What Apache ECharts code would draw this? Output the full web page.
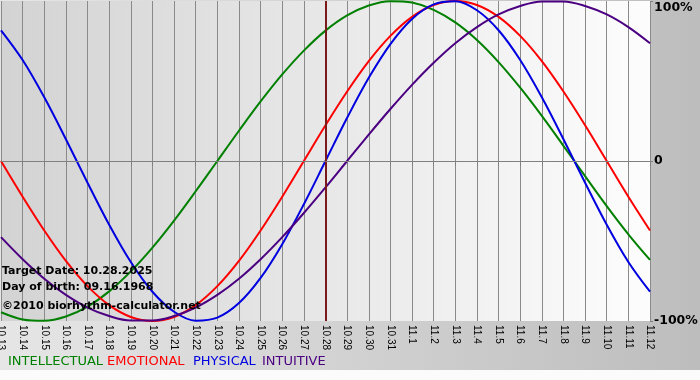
<!DOCTYPE html>
<html>
<head>
<meta charset="utf-8">
<script src="https://cdn.jsdelivr.net/npm/echarts@6/dist/echarts.min.js"></script>
<style>html,body{margin:0;padding:0;background:#fff}#c{width:700px;height:380px}</style>
</head>
<body>
<div id="c"></div>
<script>
const days = ['10.13','10.14','10.15','10.16','10.17','10.18','10.19','10.20','10.21','10.22','10.23','10.24','10.25','10.26','10.27','10.28','10.29','10.30','10.31','11.1','11.2','11.3','11.4','11.5','11.6','11.7','11.8','11.9','11.10','11.11','11.12'];
const intellectual = [-0.945,-0.990,-0.999,-0.972,-0.910,-0.815,-0.690,-0.541,-0.372,-0.189,0,0.189,0.372,0.541,0.690,0.815,0.910,0.972,0.999,0.990,0.945,0.866,0.756,0.618,0.458,0.282,0.095,-0.095,-0.282,-0.458,-0.618];
const emotional = [0,-0.223,-0.434,-0.624,-0.782,-0.901,-0.975,-1,-0.975,-0.901,-0.782,-0.624,-0.434,-0.223,0,0.223,0.434,0.624,0.782,0.901,0.975,1,0.975,0.901,0.782,0.624,0.434,0.223,0,-0.223,-0.434];
const physical = [0.817,0.631,0.398,0.136,-0.136,-0.398,-0.631,-0.817,-0.942,-0.998,-0.979,-0.888,-0.731,-0.520,-0.270,0,0.270,0.520,0.731,0.888,0.979,0.998,0.942,0.817,0.631,0.398,0.136,-0.136,-0.398,-0.631,-0.817];
const intuitive = [-0.476,-0.614,-0.736,-0.837,-0.916,-0.969,-0.997,-0.997,-0.969,-0.916,-0.837,-0.736,-0.614,-0.476,-0.325,-0.165,0,0.165,0.325,0.476,0.614,0.736,0.837,0.916,0.969,0.997,0.997,0.969,0.916,0.837,0.736];
const targetDay = '10.28';
const yTicks = [-1, 0, 1];
const infoLines = ['Target Date: 10.28.2025', 'Day of birth: 09.16.1968', '\u00A92010 biorhythm-calculator.net'];
const legendNames = ['INTELLECTUAL', 'EMOTIONAL', 'PHYSICAL', 'INTUITIVE'];

const colors = ['#008000', '#ff0000', '#0000e0', '#4b0082'];
const seriesData = [intellectual, emotional, physical, intuitive];

const chart = echarts.init(document.getElementById('c'), null, {renderer: 'canvas'});

const series = seriesData.map((d, i) => ({
  name: legendNames[i],
  type: 'line',
  data: d,
  smooth: 0.35,
  symbol: 'none',
  lineStyle: {color: colors[i], width: 2},
  z: 3
}));
series.push({
  type: 'line',
  data: [],
  silent: true,
  markLine: {
    symbol: ['none', 'none'],
    silent: true,
    animation: false,
    label: {show: false},
    data: [
      {xAxis: targetDay, lineStyle: {color: '#7a1a1a', width: 2, type: 'solid'}},
      {yAxis: 0, lineStyle: {color: '#808080', width: 1, type: 'solid'}}
    ]
  }
});

const legendX = [8, 107, 193, 262];
const graphics = [
  {type: 'rect', z: -1, silent: true, shape: {x: 0, y: 370, width: 700, height: 10}, style: {fill: '#fbfbfb'}}
];
legendNames.forEach((n, i) => {
  graphics.push({type: 'text', left: legendX[i], top: 355, z: 10,
    style: {text: n, fill: colors[i], font: '13px "DejaVu Sans"'}});
});
infoLines.forEach((t, i) => {
  graphics.push({type: 'text', left: 2, top: [266, 282, 301][i], z: 10,
    style: {text: t, fill: '#000', font: 'bold 11px "DejaVu Sans"'}});
});

chart.setOption({
  animation: false,
  backgroundColor: {type: 'linear', x: 0, y: 0, x2: 1, y2: 0,
    colorStops: [{offset: 0, color: '#e6e6e6'}, {offset: 1, color: '#bdbdbd'}]},
  grid: {left: 1, right: 50, top: 1, bottom: 59, show: true, borderWidth: 0,
    containLabel: false, outerBoundsMode: 'none',
    backgroundColor: {type: 'linear', x: 0, y: 0, x2: 1, y2: 0,
      colorStops: [{offset: 0, color: '#d3d3d3'}, {offset: 1, color: '#fdfdfd'}]}},
  xAxis: {
    type: 'category', data: days, boundaryGap: false,
    axisLine: {show: true, lineStyle: {color: '#808080', width: 1}},
    axisTick: {show: true, length: 5, interval: 0, lineStyle: {color: '#808080'}},
    axisLabel: {interval: 0, rotate: -90, color: '#000', fontSize: 10, fontFamily: 'Arial, "Liberation Sans"', margin: 4},
    splitLine: {show: true, interval: 0, lineStyle: {color: '#8a8a8a', width: 1}}
  },
  yAxis: {
    type: 'value', position: 'right', min: yTicks[0], max: yTicks[2], interval: 1,
    axisLine: {show: false},
    axisTick: {show: true, length: 3, lineStyle: {color: '#808080'}},
    splitLine: {show: false},
    axisLabel: {
      color: '#000', fontWeight: 'bold', fontSize: 12.5, fontFamily: '"DejaVu Sans"', margin: 4,
      verticalAlignMaxLabel: 'top',
      formatter: v => v === 0 ? '0' : Math.round(v * 100) + '%'
    }
  },
  graphic: graphics,
  series: series
});
</script>
</body>
</html>
